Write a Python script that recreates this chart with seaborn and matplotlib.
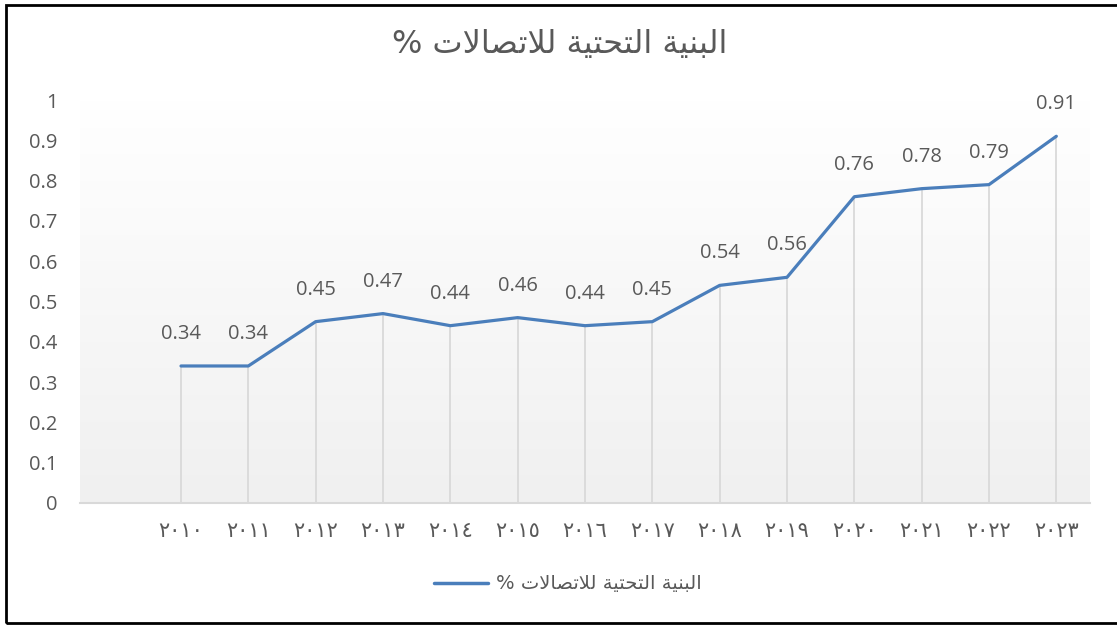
import numpy as np
import pandas as pd
import matplotlib
matplotlib.use("Agg")
import matplotlib.pyplot as plt
import seaborn as sns
from matplotlib.lines import Line2D
from matplotlib.patches import Rectangle
from matplotlib.colors import LinearSegmentedColormap

# ---- data ----
years = ['٢٠١٠', '٢٠١١', '٢٠١٢', '٢٠١٣', '٢٠١٤', '٢٠١٥', '٢٠١٦',
         '٢٠١٧', '٢٠١٨', '٢٠١٩', '٢٠٢٠', '٢٠٢١', '٢٠٢٢', '٢٠٢٣']
values = [0.34, 0.34, 0.45, 0.47, 0.44, 0.46, 0.44, 0.45, 0.54, 0.56,
          0.76, 0.78, 0.79, 0.91]
y_ticks = [0, 0.1, 0.2, 0.3, 0.4, 0.5, 0.6, 0.7, 0.8, 0.9, 1]
y_tick_labels = ['0', '0.1', '0.2', '0.3', '0.4', '0.5', '0.6', '0.7', '0.8', '0.9', '1']

# Arabic text, shaped with presentation forms in visual (left-to-right) order
w1 = '\uFE94\uFEF4\uFEE8\uFE92\uFEDF\uFE8D'          # البنية
w2 = '\uFE94\uFEF4\uFE98\uFEA4\uFE98\uFEDF\uFE8D'    # التحتية
w3 = '\uFE95\uFEFB\uFE8E\uFEBC\uFE97\uFEFC\uFEDF'    # للاتصالات
title_text = '% ' + w3 + ' ' + w2 + ' ' + w1          # البنية التحتية للاتصالات %

# leading empty category as in the source chart
categories = [''] + years
positions = np.arange(1, len(years) + 1)
df = pd.DataFrame({'pos': positions, 'value': values})

sns.set_theme(style='white')
plt.rcParams['font.family'] = ['Open Sans', 'DejaVu Sans']

grey_text = '#595959'
line_color = '#4a7ebb'

fig = plt.figure(figsize=(11.17, 6.26), dpi=100)
ax = fig.add_axes([80 / 1117, 123 / 626, (1090 - 80) / 1117, (503 - 100) / 626])

# gradient background of the plot area
cmap = LinearSegmentedColormap.from_list('bg', ['#f0f0f0', '#ffffff'])
grad = np.linspace(0, 1, 256).reshape(-1, 1)
ax.imshow(grad, cmap=cmap, aspect='auto', extent=[0, 1, 0, 1],
          transform=ax.transAxes, origin='lower', zorder=0)

sns.lineplot(data=df, x='pos', y='value', ax=ax, color=line_color,
             linewidth=2.3, label=title_text, zorder=4, legend=False)

# drop lines
ax.vlines(df['pos'], 0, df['value'], colors='#d9d9d9', linewidth=1.3, zorder=2)

# data labels
for p, v in zip(df['pos'], df['value']):
    ax.annotate(f'{v:.2f}', (p, v), xytext=(0, 23), textcoords='offset points',
                ha='center', va='center', fontsize=14.5, color=grey_text)

ax.set_xlim(-0.5, len(categories) - 0.5)
ax.set_ylim(0, 1)
ax.set_xticks(np.arange(len(categories)))
ax.set_xticklabels(categories, family=['DejaVu Sans'], fontsize=15, color=grey_text)
ax.tick_params(axis='x', length=0, pad=13)
ax.set_yticks(y_ticks)
ax.set_yticklabels(y_tick_labels, fontsize=14.5, color=grey_text)
ax.tick_params(axis='y', length=0, pad=16)
ax.set_xlabel('')
ax.set_ylabel('')
for s in ['top', 'right', 'left']:
    ax.spines[s].set_visible(False)
ax.spines['bottom'].set_color('#d9d9d9')
ax.spines['bottom'].set_linewidth(1.5)
ax.spines['bottom'].set_zorder(3)

# title
fig.text(0.5013, 1 - 45 / 626, title_text, ha='center', va='center',
         fontsize=23, color=grey_text, family=['DejaVu Sans'])

# legend
handle = Line2D([], [], color=line_color, linewidth=2.5)
leg = fig.legend([handle], [title_text], loc='center', bbox_to_anchor=(568 / 1117, 1 - 584 / 626),
                 frameon=False, handlelength=2.8, handletextpad=0.4,
                 prop={'family': ['DejaVu Sans'], 'size': 14})
for t in leg.get_texts():
    t.set_color(grey_text)

# outer border
fig.add_artist(Rectangle((6 / 1117, 3 / 626), 1.2, 1 - 8 / 626, transform=fig.transFigure,
                         fill=False, edgecolor='black', linewidth=2, zorder=10))

fig.savefig('out.png', dpi=100)
